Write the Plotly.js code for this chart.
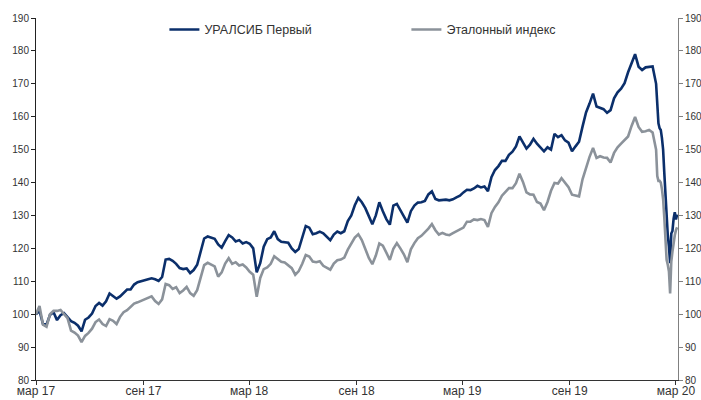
<!DOCTYPE html>
<html>
<head>
<meta charset="utf-8">
<script src="https://cdn.plot.ly/plotly-3.0.1.min.js"></script>
<style>
html,body{margin:0;padding:0;background:#fff;}
#chart{width:701px;height:400px;}
</style>
</head>
<body>
<div id="chart"></div>
<script>
const dates = [
"2017-03-01","2017-03-07","2017-03-13","2017-03-19","2017-03-25","2017-03-31","2017-04-06","2017-04-12","2017-04-18","2017-04-24",
"2017-04-30","2017-05-06","2017-05-12","2017-05-18","2017-05-24","2017-05-30","2017-06-05","2017-06-11","2017-06-17","2017-06-23",
"2017-06-29","2017-07-05","2017-07-11","2017-07-17","2017-07-23","2017-07-29","2017-08-04","2017-08-10","2017-08-16","2017-08-22",
"2017-08-28","2017-09-03","2017-09-09","2017-09-15","2017-09-21","2017-09-27","2017-10-03","2017-10-09","2017-10-15","2017-10-21",
"2017-10-27","2017-11-02","2017-11-08","2017-11-14","2017-11-20","2017-11-26","2017-12-02","2017-12-08","2017-12-14","2017-12-20",
"2017-12-26","2018-01-01","2018-01-07","2018-01-13","2018-01-19","2018-01-25","2018-01-31","2018-02-06","2018-02-12","2018-02-18",
"2018-02-24","2018-03-02","2018-03-08","2018-03-14","2018-03-20","2018-03-26","2018-04-01","2018-04-07","2018-04-13","2018-04-19",
"2018-04-25","2018-05-01","2018-05-07","2018-05-13","2018-05-19","2018-05-25","2018-05-31","2018-06-06","2018-06-12","2018-06-18",
"2018-06-24","2018-06-30","2018-07-06","2018-07-12","2018-07-18","2018-07-24","2018-07-30","2018-08-05","2018-08-11","2018-08-17",
"2018-08-23","2018-08-29","2018-09-04","2018-09-10","2018-09-16","2018-09-22","2018-09-28","2018-10-04","2018-10-10","2018-10-16",
"2018-10-22","2018-10-28","2018-11-03","2018-11-09","2018-11-15","2018-11-21","2018-11-27","2018-12-03","2018-12-09","2018-12-15",
"2018-12-21","2018-12-27","2019-01-02","2019-01-08","2019-01-14","2019-01-20","2019-01-26","2019-02-01","2019-02-07","2019-02-13",
"2019-02-19","2019-02-25","2019-03-03","2019-03-09","2019-03-15","2019-03-21","2019-03-27","2019-04-02","2019-04-08","2019-04-14",
"2019-04-20","2019-04-26","2019-05-02","2019-05-08","2019-05-14","2019-05-20","2019-05-26","2019-06-01","2019-06-07","2019-06-13",
"2019-06-19","2019-06-25","2019-07-01","2019-07-07","2019-07-13","2019-07-19","2019-07-25","2019-07-31","2019-08-06","2019-08-12",
"2019-08-18","2019-08-24","2019-08-30","2019-09-05","2019-09-11","2019-09-17","2019-09-23","2019-09-29","2019-10-05","2019-10-11",
"2019-10-17","2019-10-23","2019-10-29","2019-11-04","2019-11-10","2019-11-16","2019-11-22","2019-11-28","2019-12-04","2019-12-10",
"2019-12-16","2019-12-22","2019-12-28","2020-01-03","2020-01-09","2020-01-15","2020-01-21",
"2020-01-27","2020-01-29","2020-01-31","2020-02-02","2020-02-04","2020-02-06","2020-02-08","2020-02-10","2020-02-12","2020-02-14",
"2020-02-16","2020-02-18","2020-02-20","2020-02-22","2020-02-24","2020-02-26","2020-02-28","2020-03-01","2020-03-03"
];

const uralsib = [
100, 101, 97, 96.8, 99.8, 100.6, 98.2, 99.7, 100.3, 99.2,
97.9, 97.4, 96.5, 94.8, 98.3, 99, 100.2, 102.5, 103.4, 102.6,
103.9, 106.3, 105.5, 104.7, 105.4, 106.4, 107.5, 107.5, 109, 109.7,
109.9, 110.3, 110.6, 110.9, 110.6, 110.1, 111.3, 116.6, 116.8, 116.2,
115.3, 114, 113.7, 113.9, 112.5, 113.4, 115, 119.3, 123, 123.6,
123.2, 122.9, 121.2, 120.2, 122.2, 124, 123.3, 122.1, 122.5, 121.5,
121.9, 121.4, 120, 112.7, 115.5, 120.5, 122.8, 123.3, 125.2, 122.8,
122, 121.8, 121.7, 120, 118.9, 119.8, 123, 126.8, 126.3, 124.3,
124.6, 125.1, 124.6, 123.5, 122.5, 124.2, 125.1, 124.6, 125.2, 128.3,
130, 133.1, 135.3, 134, 132.2, 129.8, 127.3, 130, 134, 131.3,
128.9, 127.2, 133, 133.5, 131.7, 130, 127.8, 131.3, 133, 133.9,
134, 134.4, 136.4, 137.3, 135, 134.6, 134.7, 134.8, 134.6, 134.9,
135.5, 136, 137, 137.8, 137.7, 138.2, 139, 138.5, 138.8, 137.4,
141.6, 143.8, 145, 146.6, 146.6, 148.4, 149.4, 151, 154, 152.2,
150.3, 151.5, 153.3, 151.8, 150.5, 149.5, 150.7, 150, 154.8, 153.8,
154.4, 152.8, 152.1, 149.5, 151, 152.4, 157, 161.3, 164, 167,
163.1, 162.6, 162.3, 161.2, 162, 165.6, 167.4, 168.5, 170.2, 173.5,
176.5, 179, 175.2, 174.2, 175, 175.1, 175.3,
170, 162, 158, 156.5, 156, 153.5, 150, 143, 136.5, 128.5,
124, 120.5, 115.5, 124.5, 125.3, 129, 131, 128.8, 130.3
];

const benchmark = [
100, 102.5, 96.8, 96.2, 100, 101, 101, 101.3, 100, 98.8,
95, 94.4, 93.5, 91.5, 93.4, 94.3, 95.6, 97.6, 98.4, 97,
96.4, 98.5, 98, 97, 99.2, 100.6, 101.2, 102.3, 103.2, 103.6,
104, 104.4, 104.9, 105.4, 104, 103.1, 104.5, 109.2, 108.8, 107.7,
108.2, 106.4, 107.2, 108.3, 106.4, 105.6, 107.3, 111.1, 114.9, 115.6,
115, 114.5, 111.4, 112.7, 115.4, 117, 115.3, 115.8, 114.8, 115.1,
114.2, 112.9, 112, 105.3, 111, 113.7, 114.2, 115.3, 117.6, 116.6,
115.9, 115.7, 114.9, 114, 112, 113.1, 115.3, 118, 117.5, 116,
115.8, 116.1, 114.7, 114.1, 113.5, 115.4, 116.4, 116.6, 117.2, 119.6,
121.5, 123.3, 124.3, 122.5, 119.8, 117.1, 115.2, 117.8, 121.5, 120.8,
118.7, 116.5, 119.9, 121.6, 120, 118.2, 115.8, 119.7, 121.6, 123.1,
123.8, 124.8, 126, 127.4, 125.5, 124.2, 124.7, 124.2, 124, 124.6,
125.2, 125.7, 126.3, 128.1, 128.1, 128.8, 128.6, 128.9, 128.6, 126.5,
130.7, 132.6, 134, 136, 137.2, 138.3, 138.3, 139.8, 142.7, 140.2,
137, 136.4, 136.3, 134.1, 133.6, 131.6, 134.1, 137.5, 139.9, 139.7,
141.3, 140, 138.6, 136.3, 136, 135.8, 141, 144.6, 147.8, 150.5,
147.5, 148, 147.6, 147.5, 146.1, 149, 150.7, 151.8, 152.8, 154,
157.2, 159.9, 156.9, 155.4, 155.6, 156, 155.2,
150, 142, 140.5, 140.5, 140, 138, 135, 129.5, 123.5, 116.5,
115, 113, 106.3, 116, 119, 122.4, 124, 125.5, 126.4
];

const seriesNames = ["УРАЛСИБ Первый", "Эталонный индекс"];
const tickDates = ["2017-03-01","2017-09-01","2018-03-01","2018-09-01","2019-03-01","2019-09-01","2020-03-01"];
const tickLabels = ["мар 17","сен 17","мар 18","сен 18","мар 19","сен 19","мар 20"];

const FONT = "Liberation Sans, Arial, sans-serif";

const traces = [
  {x: dates, y: uralsib, name: seriesNames[0], type: "scatter", mode: "lines",
   line: {color: "#0b2f6b", width: 2.6}, yaxis: "y"},
  {x: dates, y: benchmark, name: seriesNames[1], type: "scatter", mode: "lines",
   line: {color: "#8b929a", width: 2.6}, yaxis: "y2"}
];

const axisFont = {family: FONT, size: 10, color: "#333333"};

const layout = {
  width: 701, height: 400,
  margin: {l: 36, r: 23, t: 18, b: 20},
  paper_bgcolor: "#ffffff", plot_bgcolor: "#ffffff",
  showlegend: true,
  legend: {orientation: "h", x: 0.2, xanchor: "left", y: 0.967, yanchor: "middle",
           bgcolor: "rgba(0,0,0,0)", font: {family: FONT, size: 12.5, color: "#333333"},
           entrywidth: 197, entrywidthmode: "pixels", traceorder: "normal"},
  xaxis: {type: "date", range: ["2017-03-01", "2020-03-04 12:00"],
          tickmode: "array", tickvals: tickDates, ticktext: tickLabels,
          ticks: "outside", ticklen: 4, tickcolor: "#333333", tickwidth: 1,
          showline: true, linecolor: "#333333", linewidth: 1,
          showgrid: false, zeroline: false,
          tickfont: {family: FONT, size: 12, color: "#333333"}, ticklabelstandoff: -4},
  yaxis: {range: [80, 190], dtick: 10, tick0: 80, ticks: "outside", ticklen: 4,
          tickcolor: "#222222", showline: true, linecolor: "#222222", linewidth: 1,
          showgrid: false, zeroline: false, tickfont: axisFont},
  yaxis2: {range: [80, 190], dtick: 10, tick0: 80, overlaying: "y", side: "right",
           ticks: "outside", ticklen: 4, tickcolor: "#808080", showline: true,
           linecolor: "#808080", linewidth: 1, showgrid: false, zeroline: false,
           tickfont: axisFont}
};

Plotly.newPlot("chart", traces, layout, {displayModeBar: false, staticPlot: true});
</script>
</body>
</html>
